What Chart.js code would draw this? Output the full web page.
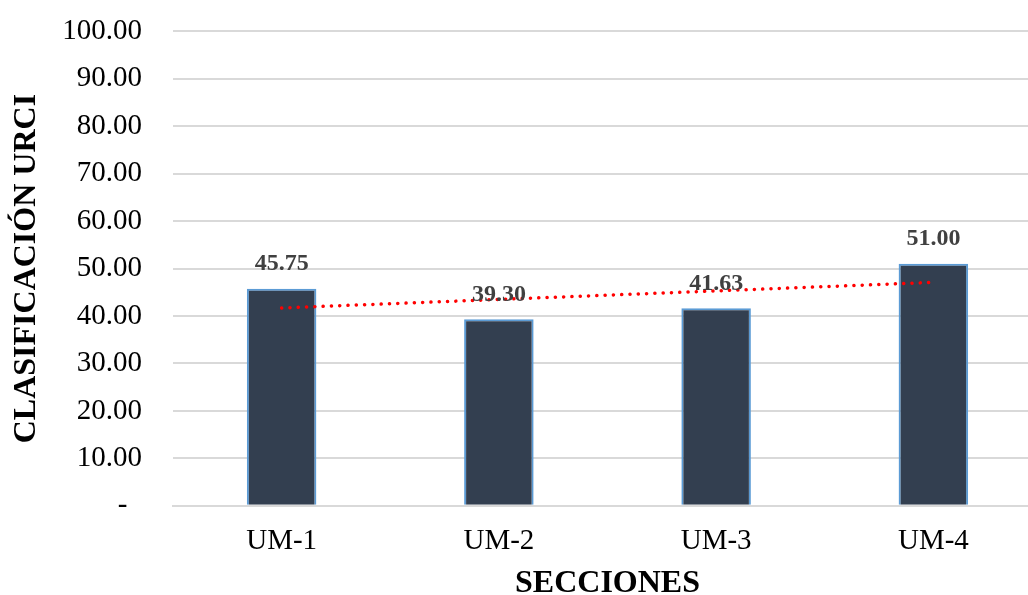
<!DOCTYPE html>
<html>
<head>
<meta charset="utf-8">
<script src="https://cdn.jsdelivr.net/npm/chart.js@4/dist/chart.umd.min.js"></script>
<style>
  html, body { margin: 0; padding: 0; background: #fff; overflow: hidden; }
  #wrap { width: 1028px; height: 595px; overflow: hidden; position: relative; }
  #box { width: 1042px; height: 612px; position: absolute; left: 0; top: -17px; }
</style>
</head>
<body>
<div id="wrap"><div id="box"><canvas id="myChart"></canvas></div></div>
<script>
// data
var secciones = ["UM-1", "UM-2", "UM-3", "UM-4"];
var urci = [45.75, 39.30, 41.63, 51.00];
// linear trend, read at first and last section
var tendencia = [41.7, null, null, 47.1];
var yTicks = [0, 10, 20, 30, 40, 50, 60, 70, 80, 90, 100];

var serif = "'Liberation Serif', 'Times New Roman', serif";

// value labels above the bars
var barLabels = {
  id: 'barLabels',
  afterDatasetsDraw: function(chart) {
    var meta = chart.getDatasetMeta(0);
    var ctx = chart.ctx;
    ctx.save();
    ctx.font = "bold 24px " + serif;
    ctx.fillStyle = "#404040";
    ctx.textAlign = "center";
    ctx.textBaseline = "middle";
    meta.data.forEach(function(bar, i) {
      ctx.fillText(urci[i].toFixed(2), bar.x, bar.y - 25);
    });
    ctx.restore();
  }
};

var ctx = document.getElementById("myChart");
var myChart = new Chart(ctx, {
  type: 'bar',
  data: {
    labels: secciones,
    datasets: [
      {
        type: 'bar',
        data: urci,
        backgroundColor: "#333f50",
        borderColor: "#5b9bd5",
        borderWidth: 2,
        barPercentage: 0.32,
        categoryPercentage: 1.0,
        order: 2
      },
      {
        type: 'line',
        data: tendencia,
        spanGaps: true,
        borderColor: "#ff0000",
        borderWidth: 3.5,
        borderDash: [0.1, 8.2],
        borderCapStyle: 'round',
        pointRadius: 0,
        fill: false,
        order: 1
      }
    ]
  },
  options: {
    responsive: true,
    maintainAspectRatio: false,
    animation: false,
    layout: { padding: { left: 8, right: 0, top: 0, bottom: -8 } },
    plugins: {
      legend: { display: false },
      tooltip: { enabled: false }
    },
    scales: {
      x: {
        grid: { display: false, drawTicks: false },
        border: { display: true, color: "#d9d9d9", width: 2 },
        ticks: { color: "#000", font: { family: serif, size: 29 }, padding: 18 },
        title: {
          display: true,
          text: "SECCIONES",
          color: "#000",
          font: { family: serif, size: 32, weight: 'bold' },
          padding: { top: -12, bottom: 0 }
        }
      },
      y: {
        min: 0,
        max: 100,
        afterBuildTicks: function(axis) {
          axis.ticks = yTicks.map(function(v) { return { value: v }; });
        },
        afterFit: function(axis) { axis.width = 165; },
        grid: { color: "#d9d9d9", lineWidth: 2, drawTicks: false },
        border: { display: false },
        ticks: {
          color: "#000",
          font: { family: serif, size: 29 },
          padding: 31,
          callback: function(v) { return v === 0 ? "-\u00a0\u00a0" : v.toFixed(2); }
        },
        title: {
          display: true,
          text: "CLASIFICACIÓN URCI",
          color: "#000",
          font: { family: serif, size: 32, weight: 'bold' },
          padding: { top: 0, bottom: 12 }
        }
      }
    }
  },
  plugins: [barLabels]
});
</script>
</body>
</html>
